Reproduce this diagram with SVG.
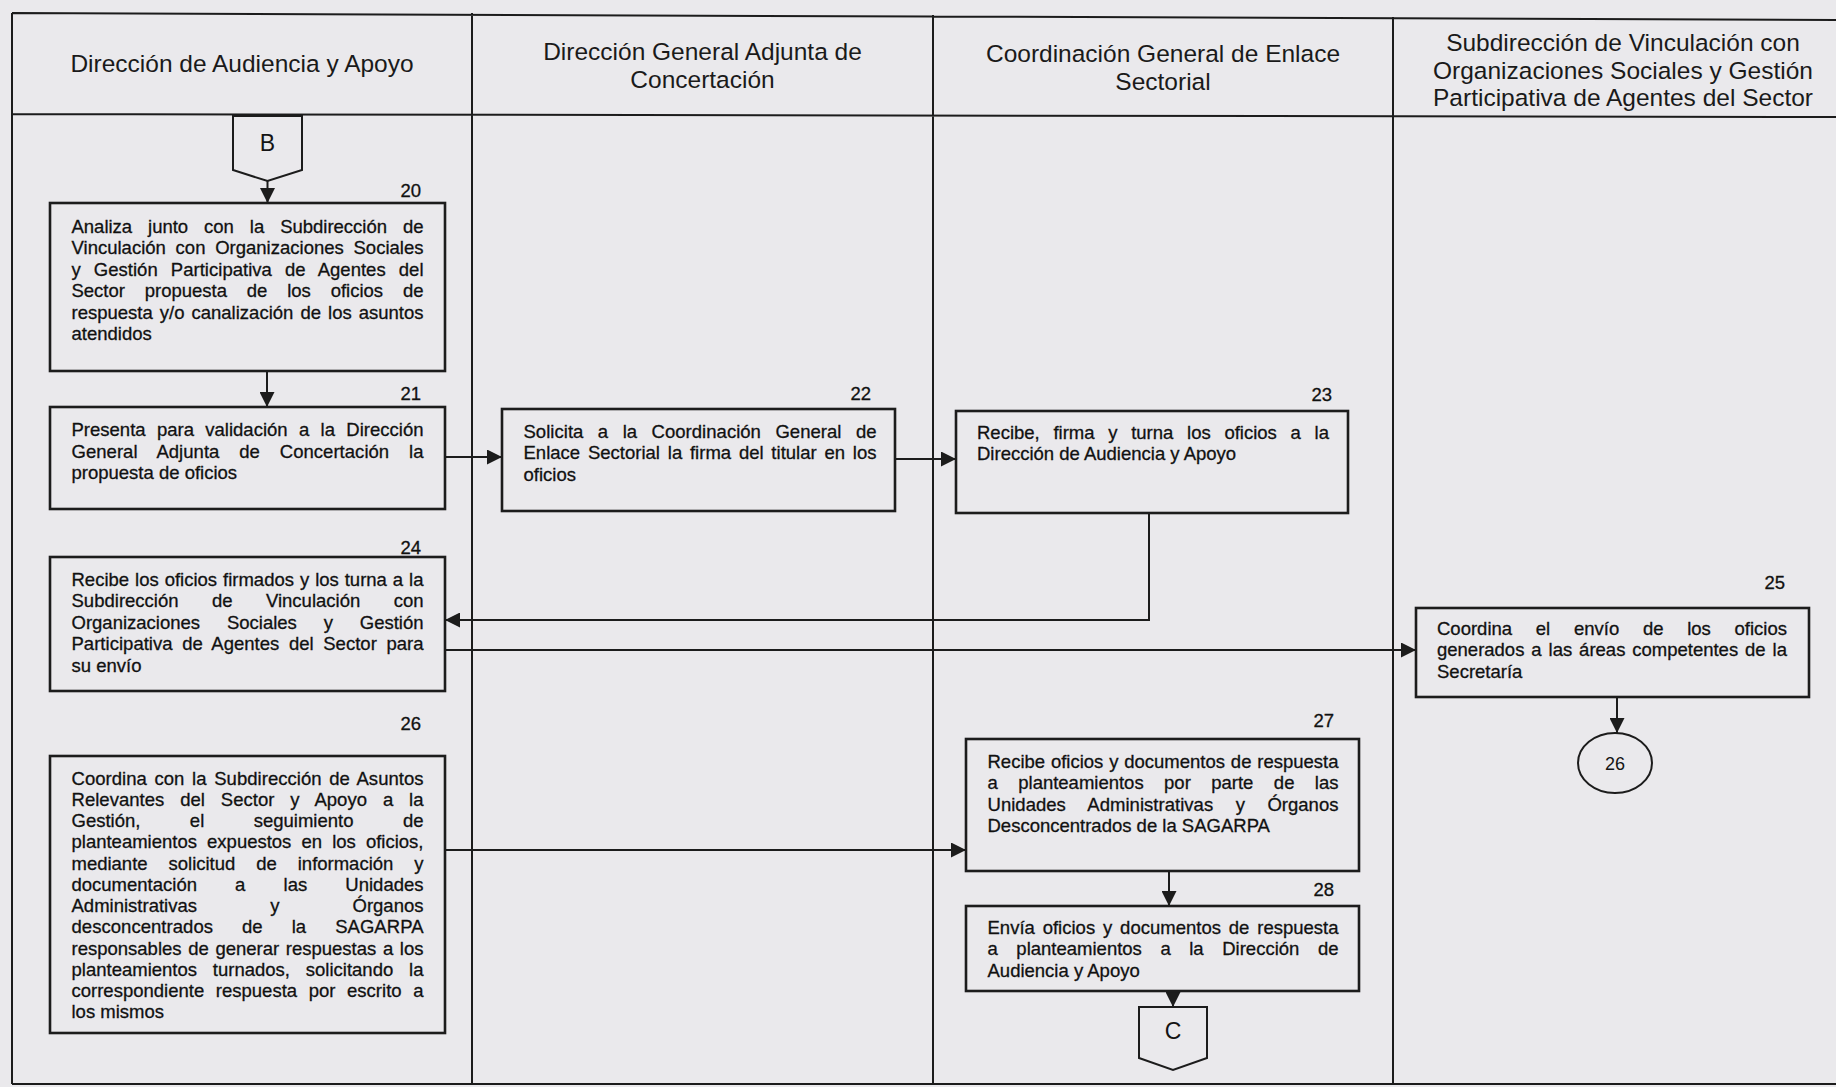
<svg xmlns="http://www.w3.org/2000/svg" width="1836" height="1087" viewBox="0 0 1836 1087">
<defs>
<style>
.bg{fill:#eae9ec}
.frame{fill:none;stroke:#1c1c1c;stroke-width:2}
.box{fill:none;stroke:#1c1c1c;stroke-width:2.6}
.conn{fill:none;stroke:#1c1c1c;stroke-width:2}
.hd{font-family:"Liberation Sans",Arial,sans-serif;font-size:24.5px;fill:#1a1a1a;text-anchor:middle}
.t{font-family:"Liberation Sans",Arial,sans-serif;font-size:18.5px;fill:#111;stroke:#111;stroke-width:0.3}
.num{font-family:"Liberation Sans",Arial,sans-serif;font-size:18.5px;fill:#111;stroke:#111;stroke-width:0.3;text-anchor:end}
.lbl{font-family:"Liberation Sans",Arial,sans-serif;fill:#141414;text-anchor:middle}
</style>
<marker id="arr" markerUnits="userSpaceOnUse" markerWidth="15" markerHeight="15" refX="15" refY="7.5" orient="auto">
<path d="M0,0 L15,7.5 L0,15 z" fill="#1c1c1c"/>
</marker>
</defs>
<rect class="bg" x="0" y="0" width="1836" height="1087"/>

<g id="lanes">
<path class="frame" d="M12,13 L1836,20 M12,114 L1836,117 M12,1084 L1836,1084 M12,13 V1084 M472,13 V1084 M933,15 V1084 M1393,17 V1084"/>
<text class="hd" x="242" y="72">Dirección de Audiencia y Apoyo</text>
<text class="hd" x="702.5" y="60">Dirección General Adjunta de</text>
<text class="hd" x="702.5" y="87.5">Concertación</text>
<text class="hd" x="1163" y="62">Coordinación General de Enlace</text>
<text class="hd" x="1163" y="89.5">Sectorial</text>
<text class="hd" x="1623" y="51">Subdirección de Vinculación con</text>
<text class="hd" x="1623" y="78.5">Organizaciones Sociales y Gestión</text>
<text class="hd" x="1623" y="106">Participativa de Agentes del Sector</text>
</g>

<g id="connectors">
<path class="conn" d="M267.5,181 V203" marker-end="url(#arr)"/>
<path class="conn" d="M267,371 V407" marker-end="url(#arr)"/>
<path class="conn" d="M445,457 H502" marker-end="url(#arr)"/>
<path class="conn" d="M895,459 H956" marker-end="url(#arr)"/>
<path class="conn" d="M1149,513 V620 H445" marker-end="url(#arr)"/>
<path class="conn" d="M445,650 H1416" marker-end="url(#arr)"/>
<path class="conn" d="M1617,697 V733" marker-end="url(#arr)"/>
<path class="conn" d="M445,850 H966" marker-end="url(#arr)"/>
<path class="conn" d="M1169,871 V906" marker-end="url(#arr)"/>
<path class="conn" d="M1173,991 V1007" marker-end="url(#arr)"/>
</g>

<g id="connB">
<path class="conn" d="M233,116 H302 V170 L267.5,181 L233,170 Z"/>
<text class="lbl" x="267.5" y="151" font-size="23">B</text>
</g>

<g id="n20">
<rect class="box" x="50" y="203" width="395" height="168"/>
<text class="num" x="421" y="197">20</text>
<text class="t" x="71.5" y="232.5" textLength="352" lengthAdjust="spacing" word-spacing="10.8">Analiza junto con la Subdirección de</text>
<text class="t" x="71.5" y="254" textLength="352" lengthAdjust="spacing" word-spacing="4.6">Vinculación con Organizaciones Sociales</text>
<text class="t" x="71.5" y="275.5" textLength="352" lengthAdjust="spacing" word-spacing="7.9">y Gestión Participativa de Agentes del</text>
<text class="t" x="71.5" y="297" textLength="352" lengthAdjust="spacing" word-spacing="14.7">Sector propuesta de los oficios de</text>
<text class="t" x="71.5" y="318.5" textLength="352" lengthAdjust="spacing" word-spacing="1.9">respuesta y/o canalización de los asuntos</text>
<text class="t" x="71.5" y="340">atendidos</text>
</g>

<g id="n21">
<rect class="box" x="50" y="407" width="395" height="102"/>
<text class="num" x="421" y="400">21</text>
<text class="t" x="71.5" y="436" textLength="352" lengthAdjust="spacing" word-spacing="6.2">Presenta para validación a la Dirección</text>
<text class="t" x="71.5" y="457.5" textLength="352" lengthAdjust="spacing" word-spacing="14.7">General Adjunta de Concertación la</text>
<text class="t" x="71.5" y="479">propuesta de oficios</text>
</g>

<g id="n22">
<rect class="box" x="502" y="409" width="393" height="102"/>
<text class="num" x="871" y="400">22</text>
<text class="t" x="523.5" y="437.5" textLength="353" lengthAdjust="spacing" word-spacing="9.3">Solicita a la Coordinación General de</text>
<text class="t" x="523.5" y="459" textLength="353" lengthAdjust="spacing" word-spacing="2.6">Enlace Sectorial la firma del titular en los</text>
<text class="t" x="523.5" y="480.5">oficios</text>
</g>

<g id="n23">
<rect class="box" x="956" y="411" width="392" height="102"/>
<text class="num" x="1332" y="401">23</text>
<text class="t" x="977" y="438.5" textLength="352" lengthAdjust="spacing" word-spacing="8.6">Recibe, firma y turna los oficios a la</text>
<text class="t" x="977" y="460">Dirección de Audiencia y Apoyo</text>
</g>

<g id="n24">
<rect class="box" x="50" y="557" width="395" height="134"/>
<text class="num" x="421" y="554">24</text>
<text class="t" x="71.5" y="585.5" textLength="352" lengthAdjust="spacing" word-spacing="0.8">Recibe los oficios firmados y los turna a la</text>
<text class="t" x="71.5" y="607" textLength="352" lengthAdjust="spacing" word-spacing="28.2">Subdirección de Vinculación con</text>
<text class="t" x="71.5" y="628.5" textLength="352" lengthAdjust="spacing" word-spacing="21.7">Organizaciones Sociales y Gestión</text>
<text class="t" x="71.5" y="650" textLength="352" lengthAdjust="spacing" word-spacing="4.4">Participativa de Agentes del Sector para</text>
<text class="t" x="71.5" y="671.5">su envío</text>
</g>

<g id="n25">
<rect class="box" x="1416" y="608" width="393" height="89"/>
<text class="num" x="1785" y="589">25</text>
<text class="t" x="1437" y="634.5" textLength="350" lengthAdjust="spacing" word-spacing="18.6">Coordina el envío de los oficios</text>
<text class="t" x="1437" y="656" textLength="350" lengthAdjust="spacing" word-spacing="1.8">generados a las áreas competentes de la</text>
<text class="t" x="1437" y="677.5">Secretaría</text>
</g>

<g id="conn26">
<ellipse class="conn" cx="1615" cy="763" rx="37" ry="30"/>
<text class="lbl" x="1615" y="769.5" font-size="18">26</text>
</g>

<g id="n26">
<rect class="box" x="50" y="756" width="395" height="277"/>
<text class="num" x="421" y="730">26</text>
<text class="t" x="71.5" y="784.5" textLength="352" lengthAdjust="spacing" word-spacing="2.5">Coordina con la Subdirección de Asuntos</text>
<text class="t" x="71.5" y="805.75" textLength="352" lengthAdjust="spacing" word-spacing="10.7">Relevantes del Sector y Apoyo a la</text>
<text class="t" x="71.5" y="827" textLength="352" lengthAdjust="spacing" word-spacing="44.3">Gestión, el seguimiento de</text>
<text class="t" x="71.5" y="848.25" textLength="352" lengthAdjust="spacing" word-spacing="5">planteamientos expuestos en los oficios,</text>
<text class="t" x="71.5" y="869.5" textLength="352" lengthAdjust="spacing" word-spacing="15.8">mediante solicitud de información y</text>
<text class="t" x="71.5" y="890.75" textLength="352" lengthAdjust="spacing" word-spacing="33">documentación a las Unidades</text>
<text class="t" x="71.5" y="912" textLength="352" lengthAdjust="spacing" word-spacing="68">Administrativas y Órganos</text>
<text class="t" x="71.5" y="933.25" textLength="352" lengthAdjust="spacing" word-spacing="23.8">desconcentrados de la SAGARPA</text>
<text class="t" x="71.5" y="954.5" textLength="352" lengthAdjust="spacing" word-spacing="1.5">responsables de generar respuestas a los</text>
<text class="t" x="71.5" y="975.75" textLength="352" lengthAdjust="spacing" word-spacing="10.7">planteamientos turnados, solicitando la</text>
<text class="t" x="71.5" y="997" textLength="352" lengthAdjust="spacing" word-spacing="6.5">correspondiente respuesta por escrito a</text>
<text class="t" x="71.5" y="1018.25">los mismos</text>
</g>

<g id="n27">
<rect class="box" x="966" y="739" width="393" height="132"/>
<text class="num" x="1334" y="727">27</text>
<text class="t" x="987.5" y="767.5" textLength="351" lengthAdjust="spacing" word-spacing="0.7">Recibe oficios y documentos de respuesta</text>
<text class="t" x="987.5" y="789" textLength="351" lengthAdjust="spacing" word-spacing="15.3">a planteamientos por parte de las</text>
<text class="t" x="987.5" y="810.5" textLength="351" lengthAdjust="spacing" word-spacing="17.3">Unidades Administrativas y Órganos</text>
<text class="t" x="987.5" y="832">Desconcentrados de la SAGARPA</text>
</g>

<g id="n28">
<rect class="box" x="966" y="906" width="393" height="85"/>
<text class="num" x="1334" y="896">28</text>
<text class="t" x="987.5" y="933.5" textLength="351" lengthAdjust="spacing" word-spacing="2.7">Envía oficios y documentos de respuesta</text>
<text class="t" x="987.5" y="955" textLength="351" lengthAdjust="spacing" word-spacing="13.4">a planteamientos a la Dirección de</text>
<text class="t" x="987.5" y="976.5">Audiencia y Apoyo</text>
</g>

<g id="connC">
<path class="conn" d="M1139,1007 H1207 V1058 L1173,1070 L1139,1058 Z"/>
<text class="lbl" x="1173" y="1039" font-size="23">C</text>
</g>
</svg>
